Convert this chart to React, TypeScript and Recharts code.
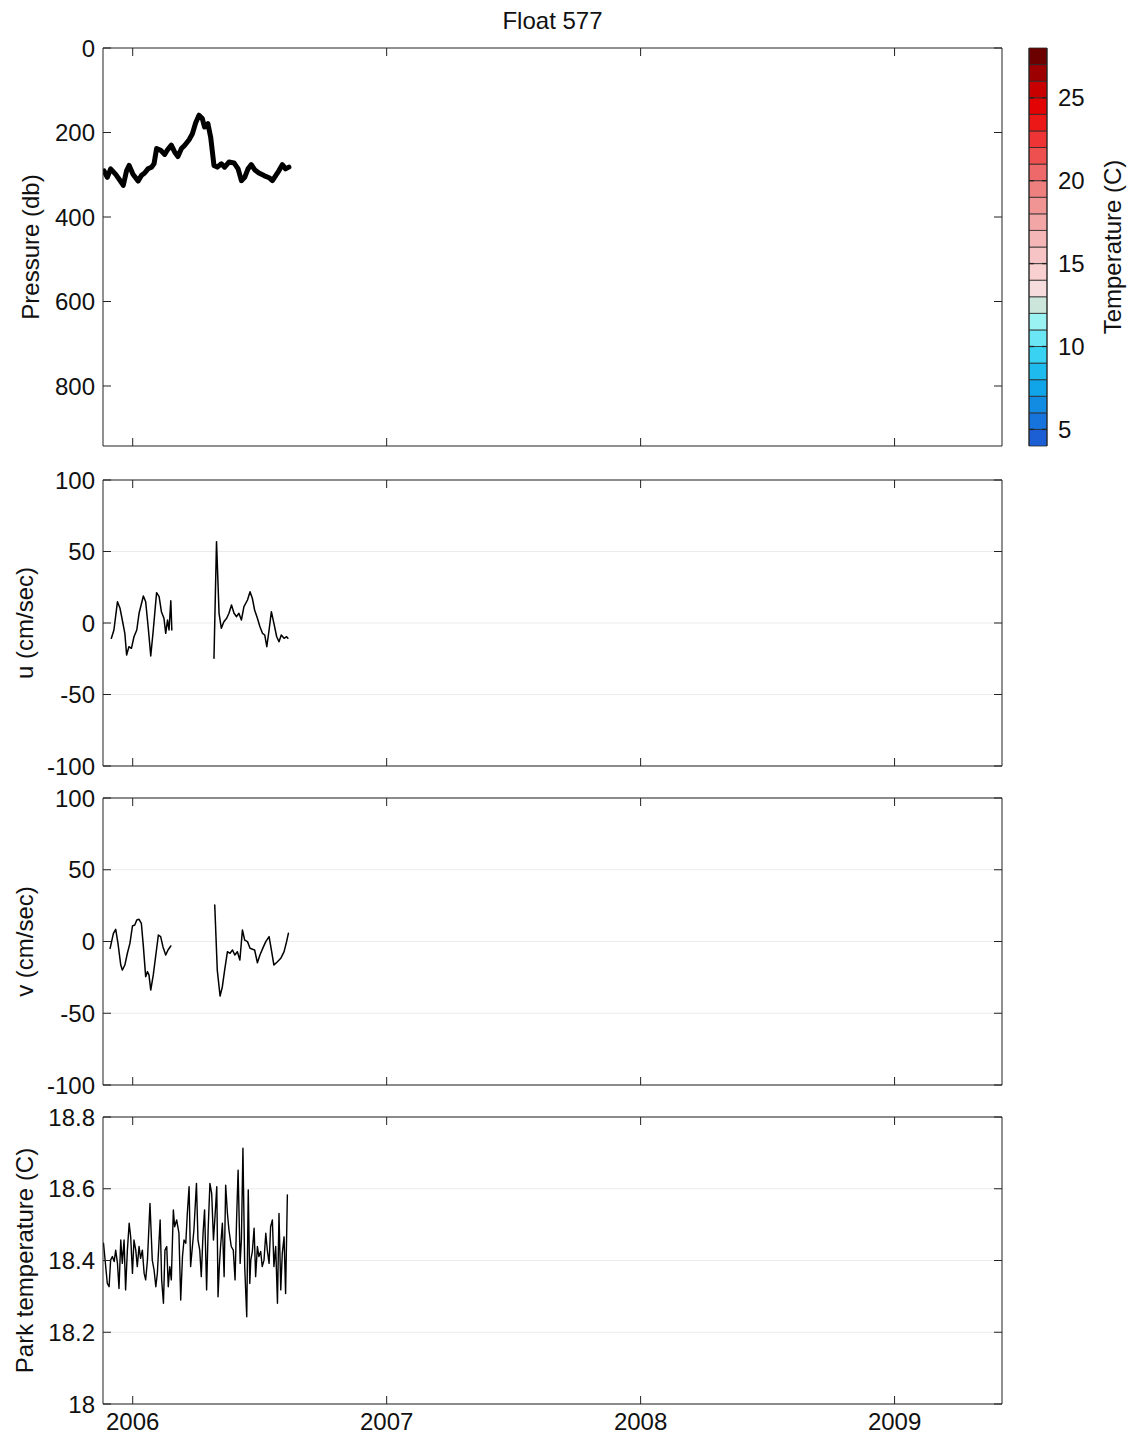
import React from 'react';
import { LineChart, Line, XAxis, YAxis, CartesianGrid, ReferenceArea } from 'recharts';

const FONT = '"Liberation Sans", Arial, Helvetica, sans-serif';
const FS = 24;
const AXIS = '#222';
const TXT = '#111';
const WIDTH = 1132;
const PLOT_R = 1002;

const chartTitle = 'Float 577';
const xDomain: [number, number] = [2005.883, 2009.423];
const yearTicks = [2006, 2007, 2008, 2009];

// Panel 1: pressure (db)
const pressureYears = [
  2005.887, 2005.9, 2005.913, 2005.933, 2005.946, 2005.963, 2005.976, 2005.986, 2006.001, 2006.021,
  2006.034, 2006.047, 2006.06, 2006.074, 2006.084, 2006.094, 2006.11, 2006.126, 2006.137, 2006.152,
  2006.165, 2006.178, 2006.192, 2006.205, 2006.222, 2006.235, 2006.248, 2006.261, 2006.274, 2006.283,
  2006.296, 2006.307, 2006.32, 2006.333, 2006.349, 2006.362, 2006.379, 2006.399, 2006.415, 2006.428,
  2006.441, 2006.454, 2006.467, 2006.48, 2006.497, 2006.517, 2006.537, 2006.55, 2006.563, 2006.576,
  2006.589, 2006.602, 2006.615,
];
const pressureDb = [
  291, 306, 286, 299, 310, 325, 290, 278, 299, 315,
  302, 296, 286, 282, 274, 238, 242, 252, 241, 230,
  246, 257, 238, 230, 217, 203, 177, 159, 167, 187,
  179, 211, 278, 282, 274, 282, 270, 272, 286, 314,
  306, 286, 276, 288, 296, 302, 307, 314, 302, 290,
  276, 286, 282,
];
const pressureDomain = [0, 942];
const pressureTicks = [0, 200, 400, 600, 800];

// Panel 2: u (cm/sec); null marks the data gap
const uYears = [
  2005.916, 2005.926, 2005.94, 2005.95, 2005.959, 2005.969, 2005.976, 2005.985, 2005.995, 2006.005,
  2006.016, 2006.025, 2006.042, 2006.051, 2006.062, 2006.071, 2006.081, 2006.094, 2006.104, 2006.113,
  2006.123, 2006.13, 2006.137, 2006.143, 2006.15, 2006.154, 2006.2,
  2006.32, 2006.33, 2006.34, 2006.349, 2006.359, 2006.37, 2006.379, 2006.389, 2006.399, 2006.409,
  2006.418, 2006.428, 2006.438, 2006.452, 2006.462, 2006.471, 2006.48, 2006.491, 2006.501, 2006.511,
  2006.52, 2006.528, 2006.537, 2006.546, 2006.556, 2006.567, 2006.576, 2006.585, 2006.596, 2006.606,
  2006.611,
];
const uValues = [
  -10.7, -4.9, 14.9, 10.3, 2.1, -7.2, -22.4, -16.6, -17.7, -9.6,
  -4.9, 6.8, 18.9, 14.9, -4.9, -23.1, -4.9, 21.2, 18.4, 7.9,
  3.3, -7.2, 2.1, -4.9, 15.6, -4.9, null,
  -24.7, 56.9, 6.8, -3.7, 0.9, 3.3, 6.8, 12.6, 6.8, 4.4,
  6.8, 2.1, 11.4, 16.1, 21.9, 17.3, 9.1, 3.3, -2.6, -7.2,
  -8.4, -16.6, -4.9, 7.9, -0.2, -9.6, -13.1, -8.4, -10.7, -9.6,
  -10.7,
];

// Panel 3: v (cm/sec); null marks the data gap
const vYears = [
  2005.911, 2005.924, 2005.933, 2005.942, 2005.953, 2005.959, 2005.969, 2005.979, 2005.989, 2005.999,
  2006.008, 2006.016, 2006.025, 2006.034, 2006.042, 2006.051, 2006.058, 2006.064, 2006.071, 2006.081,
  2006.091, 2006.101, 2006.11, 2006.119, 2006.13, 2006.139, 2006.15, 2006.2,
  2006.323, 2006.333, 2006.344, 2006.353, 2006.362, 2006.373, 2006.383, 2006.393, 2006.402, 2006.412,
  2006.422, 2006.432, 2006.441, 2006.452, 2006.462, 2006.472, 2006.48, 2006.491, 2006.501, 2006.515,
  2006.524, 2006.537, 2006.546, 2006.556, 2006.57, 2006.583, 2006.596, 2006.606, 2006.613,
];
const vValues = [
  -4.8, 5.7, 8.5, -1.3, -16.4, -19.9, -16.4, -8.2, -1.3, 10.8,
  11.5, 15.0, 15.5, 12.7, -3.6, -24.5, -21.0, -23.3, -33.8, -23.3,
  -9.4, 4.5, 3.4, -3.6, -9.4, -5.9, -3.1, null,
  25.4, -19.9, -38.0, -31.5, -19.9, -7.1, -8.2, -5.9, -9.4, -7.1,
  -12.9, 8.0, 1.0, -0.1, -4.7, -5.4, -5.9, -14.8, -9.4, -3.6,
  -0.1, 3.4, -5.9, -16.4, -14.1, -11.7, -7.1, -0.1, 5.7,
];
const velDomain = [-100, 100];
const velTicks = [-100, -50, 0, 50, 100];

// Panel 4: park temperature (C)
const parkYears = [
  2005.885, 2005.9, 2005.907, 2005.913, 2005.92, 2005.927, 2005.933, 2005.94, 2005.946, 2005.953,
  2005.959, 2005.966, 2005.972, 2005.979, 2005.986, 2005.992, 2005.999, 2006.005, 2006.012, 2006.018,
  2006.025, 2006.031, 2006.038, 2006.045, 2006.051, 2006.058, 2006.068, 2006.077, 2006.084, 2006.091,
  2006.097, 2006.108, 2006.114, 2006.121, 2006.127, 2006.134, 2006.14, 2006.146, 2006.152, 2006.16,
  2006.165, 2006.173, 2006.182, 2006.189, 2006.196, 2006.202, 2006.209, 2006.215, 2006.222, 2006.228,
  2006.235, 2006.241, 2006.251, 2006.257, 2006.264, 2006.27, 2006.277, 2006.283, 2006.291, 2006.297,
  2006.304, 2006.311, 2006.318, 2006.324, 2006.331, 2006.336, 2006.341, 2006.346, 2006.353, 2006.36,
  2006.366, 2006.373, 2006.379, 2006.388, 2006.396, 2006.403, 2006.409, 2006.415, 2006.423, 2006.428,
  2006.434, 2006.441, 2006.449, 2006.455, 2006.461, 2006.465, 2006.471, 2006.478, 2006.484, 2006.491,
  2006.497, 2006.504, 2006.51, 2006.517, 2006.524, 2006.53, 2006.537, 2006.543, 2006.55, 2006.556,
  2006.563, 2006.57, 2006.576, 2006.583, 2006.589, 2006.596, 2006.602, 2006.609,
];
const parkTemps = [
  18.448, 18.336, 18.327, 18.401, 18.411, 18.397, 18.429, 18.392, 18.322, 18.457,
  18.392, 18.457, 18.318, 18.429, 18.504, 18.466, 18.364, 18.457, 18.429, 18.383,
  18.439, 18.406, 18.429, 18.364, 18.346, 18.401, 18.559, 18.401, 18.374, 18.327,
  18.364, 18.513, 18.346, 18.281, 18.429, 18.439, 18.327, 18.383, 18.346, 18.541,
  18.494, 18.513, 18.476, 18.29, 18.411, 18.457, 18.448, 18.531, 18.606, 18.383,
  18.439, 18.485, 18.615, 18.457, 18.429, 18.355, 18.476, 18.541, 18.318, 18.485,
  18.615, 18.587, 18.457, 18.522, 18.606, 18.299, 18.383, 18.439, 18.504, 18.355,
  18.61, 18.531, 18.485, 18.439, 18.429, 18.346, 18.513, 18.652, 18.392, 18.457,
  18.713, 18.383, 18.243, 18.597, 18.336, 18.401, 18.425, 18.49, 18.355, 18.439,
  18.411, 18.425, 18.383, 18.401, 18.476, 18.429, 18.392, 18.494, 18.513, 18.383,
  18.439, 18.281, 18.531, 18.318, 18.42, 18.466, 18.308, 18.583,
];
const parkDomain = [18, 18.8];
const parkTicks = [18, 18.2, 18.4, 18.6, 18.8];

// Colorbar: 1 degree bands from 4 to 28 C (bottom to top)
const colorBandEdges = [4, 5, 6, 7, 8, 9, 10, 11, 12, 13, 14, 15, 16, 17, 18, 19, 20, 21, 22, 23, 24, 25, 26, 27, 28];
const colorBandColors = [
  '#1c5ed4', '#1774dc', '#128ce2', '#10a4e8', '#1ebcee', '#3ad2f2', '#6ae6f4', '#9af2f2',
  '#cce6dc', '#f6dcdc', '#f8d0d0', '#f6c4c4', '#f4b6b6', '#f2a6a6', '#f09494', '#ee8080',
  '#ee6a6a', '#ee5050', '#ee3434', '#ec1818', '#e20404', '#c80000', '#9c0000', '#6c0000',
];
const colorbarDomain = [4, 28];
const colorbarTicks = [5, 10, 15, 20, 25];
const colorbarLabel = 'Temperature (C)';

const pressureData = pressureYears.map((t, i) => ({ t, y: pressureDb[i] }));
const uData = uYears.map((t, i) => ({ t, y: uValues[i] }));
const vData = vYears.map((t, i) => ({ t, y: vValues[i] }));
const parkData = parkYears.map((t, i) => ({ t, y: parkTemps[i] }));
const bands = colorBandColors.map((color, i) => ({ lo: colorBandEdges[i], hi: colorBandEdges[i + 1], color }));
const colorbarData = [{ x: 0, y: colorbarDomain[0] }, { x: 1, y: colorbarDomain[1] }];

const tickStyle = { fontFamily: FONT, fontSize: FS, fill: TXT };
const NoTickLabel = () => <g />;

function rotatedLabel(text: string, cx: number) {
  return (props: any) => {
    const vb = props.viewBox || {};
    const cy = (vb.y || 0) + (vb.height || 0) / 2;
    return (
      <text
        x={cx}
        y={cy}
        transform={`rotate(-90 ${cx} ${cy})`}
        textAnchor="middle"
        dominantBaseline="central"
        fontFamily={FONT}
        fontSize={FS}
        fill={TXT}
      >
        {text}
      </text>
    );
  };
}

function titleLabel(text: string, cy: number) {
  return (props: any) => {
    const vb = props.viewBox || {};
    const cx = (vb.x || 0) + (vb.width || 0) / 2;
    return (
      <text x={cx} y={cy} textAnchor="middle" dominantBaseline="central" fontFamily={FONT} fontSize={FS} fill={TXT}>
        {text}
      </text>
    );
  };
}

type PanelProps = {
  top: number;
  bottom: number;
  mt: number;
  data: any[];
  domain: number[];
  ticks: number[];
  reversed?: boolean;
  label: string;
  labelX: number;
  strokeWidth: number;
  grid?: boolean;
  showX?: boolean;
  title?: string;
};

function Panel({ top, bottom, mt, data, domain, ticks, reversed, label, labelX, strokeWidth, grid, showX, title }: PanelProps) {
  const mb = 50;
  const ax = 1;
  const h = bottom - top + mt + mb + 2 * ax;
  const lineStyle = { stroke: AXIS, strokeWidth: 1 };
  return (
    <div style={{ position: 'absolute', left: 0, top: top - mt - ax, width: WIDTH, height: h }}>
      <LineChart width={WIDTH} height={h} data={data} margin={{ top: mt, right: WIDTH - PLOT_R - ax, bottom: mb, left: 0 }}>
        {grid && <CartesianGrid xAxisId="b" yAxisId="l" vertical={false} stroke="#ebebeb" strokeWidth={1} />}
        <XAxis
          xAxisId="b"
          type="number"
          dataKey="t"
          domain={xDomain}
          ticks={yearTicks}
          interval={0}
          allowDataOverflow
          orientation="bottom"
          height={ax}
          tickSize={-8}
          tickMargin={17}
          tick={showX ? tickStyle : NoTickLabel}
          axisLine={lineStyle}
          tickLine={lineStyle}
        />
        <XAxis
          xAxisId="t"
          type="number"
          dataKey="t"
          domain={xDomain}
          ticks={yearTicks}
          interval={0}
          allowDataOverflow
          orientation="top"
          height={ax}
          tickSize={-8}
          tick={NoTickLabel}
          axisLine={lineStyle}
          tickLine={lineStyle}
          label={title ? { content: titleLabel(title, 20) } : undefined}
        />
        <YAxis
          yAxisId="l"
          type="number"
          width={103}
          domain={domain}
          ticks={ticks}
          interval={0}
          allowDataOverflow
          reversed={reversed}
          tickSize={-8}
          tickMargin={16}
          tick={tickStyle}
          axisLine={lineStyle}
          tickLine={lineStyle}
          label={{ content: rotatedLabel(label, labelX) }}
        />
        <YAxis
          yAxisId="r"
          type="number"
          orientation="right"
          width={ax}
          domain={domain}
          ticks={ticks}
          interval={0}
          allowDataOverflow
          reversed={reversed}
          tickSize={-8}
          tick={NoTickLabel}
          axisLine={lineStyle}
          tickLine={lineStyle}
        />
        <Line
          xAxisId="t"
          yAxisId="r"
          type="linear"
          dataKey="y"
          stroke="none"
          dot={false}
          activeDot={false}
          isAnimationActive={false}
        />
        <Line
          xAxisId="b"
          yAxisId="l"
          type="linear"
          dataKey="y"
          stroke="#000"
          strokeWidth={strokeWidth}
          strokeLinejoin="round"
          strokeLinecap="round"
          dot={false}
          activeDot={false}
          connectNulls={false}
          isAnimationActive={false}
        />
      </LineChart>
    </div>
  );
}

function Colorbar() {
  const top = 48;
  const bottom = 446;
  const mt = 20;
  const mb = 20;
  const h = bottom - top + mt + mb;
  const w = WIDTH - 1000;
  const lineStyle = { stroke: AXIS, strokeWidth: 1 };
  return (
    <div style={{ position: 'absolute', left: 1000, top: top - mt, width: w, height: h }}>
      <LineChart width={w} height={h} data={colorbarData} margin={{ top: mt, right: 0, bottom: mb, left: 0 }}>
        <XAxis xAxisId="x" type="number" dataKey="x" domain={[0, 1]} hide />
        {bands.map((b) => (
          <ReferenceArea
            key={b.lo}
            xAxisId="x"
            yAxisId="l"
            x1={0}
            x2={1}
            y1={b.lo}
            y2={b.hi}
            fill={b.color}
            fillOpacity={1}
            stroke="#2a2a2a"
            strokeWidth={0.8}
            ifOverflow="visible"
          />
        ))}
        <YAxis
          yAxisId="l"
          type="number"
          width={29}
          domain={colorbarDomain}
          ticks={colorbarTicks}
          interval={0}
          allowDataOverflow
          tickSize={-5}
          tick={NoTickLabel}
          axisLine={lineStyle}
          tickLine={{ stroke: AXIS, strokeWidth: 1.3 }}
        />
        <YAxis
          yAxisId="r"
          type="number"
          orientation="right"
          width={85}
          domain={colorbarDomain}
          ticks={colorbarTicks}
          interval={0}
          allowDataOverflow
          tickSize={-5}
          tickMargin={16}
          tick={tickStyle}
          axisLine={lineStyle}
          tickLine={{ stroke: AXIS, strokeWidth: 1.3 }}
          label={{ content: rotatedLabel(colorbarLabel, 112) }}
        />
        <Line xAxisId="x" yAxisId="l" dataKey="y" stroke="none" dot={false} activeDot={false} isAnimationActive={false} />
        <Line xAxisId="x" yAxisId="r" dataKey="y" stroke="none" dot={false} activeDot={false} isAnimationActive={false} />
      </LineChart>
    </div>
  );
}

export default function App() {
  return (
    <div style={{ position: 'absolute', left: 0, top: 0, width: WIDTH, height: 1443, background: '#fff', overflow: 'hidden' }}>
      <Panel
        top={48}
        bottom={446}
        mt={47}
        data={pressureData}
        domain={pressureDomain}
        ticks={pressureTicks}
        reversed
        label="Pressure (db)"
        labelX={30}
        strokeWidth={5}
        title={chartTitle}
      />
      <Panel top={480} bottom={766} mt={20} data={uData} domain={velDomain} ticks={velTicks} label="u (cm/sec)" labelX={24} strokeWidth={1.5} grid />
      <Panel top={798} bottom={1085} mt={20} data={vData} domain={velDomain} ticks={velTicks} label="v (cm/sec)" labelX={24} strokeWidth={1.5} grid />
      <Panel
        top={1117}
        bottom={1404}
        mt={20}
        data={parkData}
        domain={parkDomain}
        ticks={parkTicks}
        label="Park temperature (C)"
        labelX={24}
        strokeWidth={1.4}
        grid
        showX
      />
      <Colorbar />
    </div>
  );
}
